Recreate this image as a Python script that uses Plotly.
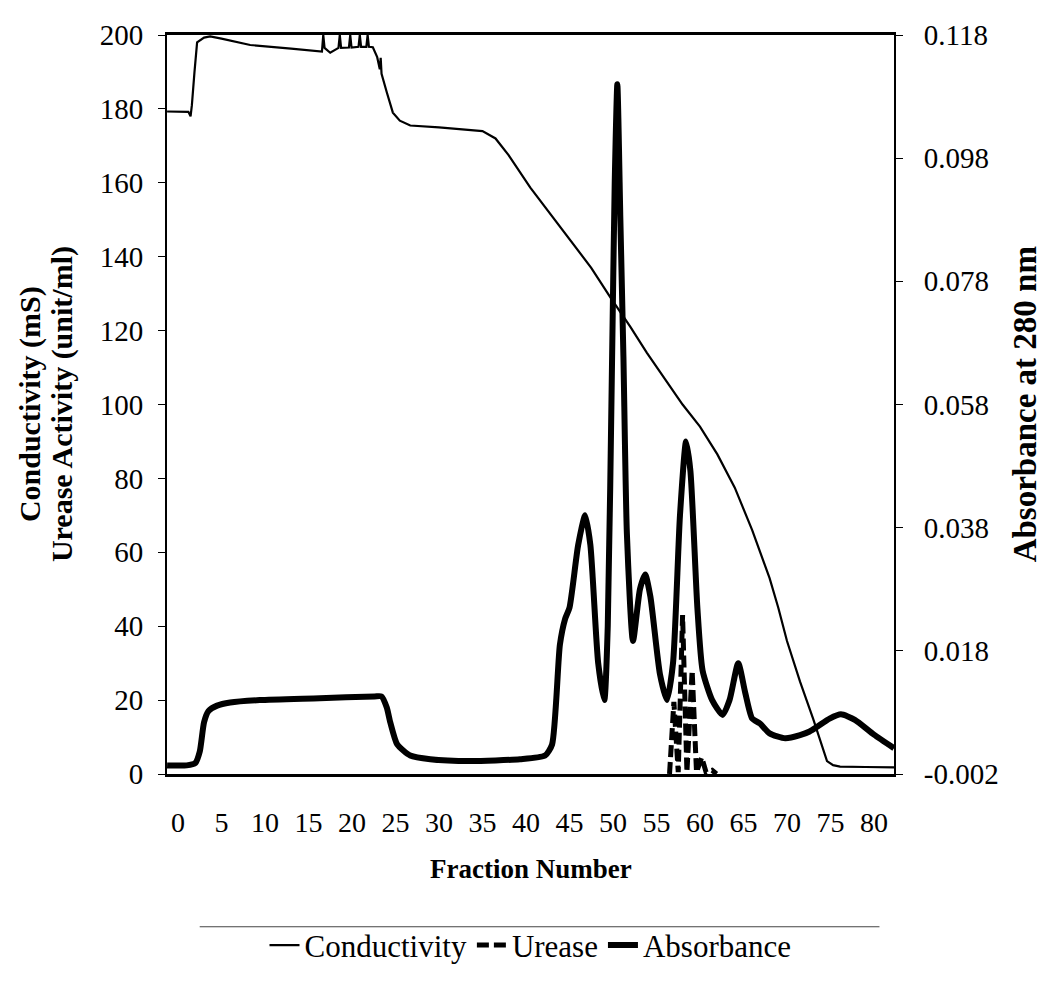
import plotly.graph_objects as go

# ---------------- data ----------------
fraction_ticks = list(range(0, 81, 5))
left_ticks = list(range(0, 201, 20))
right_tick_vals = [-0.002, 0.018, 0.038, 0.058, 0.078, 0.098, 0.118]
right_tick_text = ["-0.002", "0.018", "0.038", "0.058", "0.078", "0.098", "0.118"]

# Conductivity (mS)
cond_x = [-1.25, 1.2, 1.45, 1.6, 1.9, 2.2, 3.0, 3.7, 5.0, 8.3, 13.0, 16.3,
          16.55, 16.7, 16.85, 17.5, 18.45, 18.6, 18.75, 19.65, 19.8, 19.95,
          20.75, 20.9, 21.05, 21.65, 21.8, 21.95, 22.4, 22.9, 23.2, 23.3, 23.4,
          24.0, 24.7, 25.5, 26.7, 30.0, 35.0, 36.5, 38.0, 40.5, 43.0, 45.1,
          47.5, 49.7, 52.0, 53.9, 56.0, 58.0, 60.0, 62.0, 64.0, 66.0, 68.0,
          69.0, 70.0, 71.5, 73.0, 73.8, 74.6, 75.3, 76.1, 79.0, 82.3]
cond_y = [179.3, 179.2, 178.0, 181.0, 190.0, 198.0, 199.3, 199.6, 199.0, 197.3,
          196.3, 195.5, 195.5, 200.0, 196.5, 195.2, 196.5, 200.0, 196.5, 196.6,
          200.0, 196.6, 196.8, 200.0, 196.8, 196.8, 200.0, 196.8, 196.7, 194.0,
          190.7, 193.8, 189.5, 184.5, 179.0, 176.8, 175.5, 175.0, 174.0, 172.0,
          167.5, 158.7, 151.0, 144.5, 137.0, 129.0, 121.0, 114.0, 107.0, 100.0,
          94.0, 86.5, 77.5, 66.0, 53.0, 45.0, 36.0, 25.0, 15.0, 9.0, 3.5,
          2.4, 2.0, 1.9, 1.8]

# Urease activity (unit/ml)
urease_x = [56.5, 57.0, 57.5, 58.0, 58.5, 59.1, 59.6, 60.2, 60.7,
            61.4, 61.9]
urease_y = [0.0, 19.5, 0.5, 43.0, 0.5, 28.0, 0.5, 4.5, 0.5, 1.0, 0.0]

# Absorbance at 280 nm
abs_x = [-1.25, 1.0, 2.0, 2.5, 3.0, 3.5, 4.5, 6.0, 9.4, 16.3, 22.6, 23.4,
         24.0, 24.4, 25.2, 26.7, 29.0, 33.6, 39.3, 42.2, 43.0, 43.9, 44.5,
         45.0, 46.0, 46.8, 47.4, 48.3, 49.0, 49.4, 49.9, 50.2, 50.5, 50.85,
         51.2, 51.6, 52.3, 53.1, 53.7, 54.3, 55.4, 56.2, 56.9, 57.7, 58.4,
         58.9, 59.7, 60.3, 61.4, 62.6, 63.4, 64.4, 65.2, 66.0, 66.9, 68.0,
         69.8, 71.5, 72.6, 73.6, 74.9, 76.2, 77.8, 80.0, 82.3]
abs_y = [-0.0006, -0.0006, -0.0002, 0.0016, 0.0064, 0.0082, 0.0091, 0.0096,
         0.0100, 0.0103, 0.0106, 0.0106, 0.0088, 0.0064, 0.0028, 0.0010,
         0.0004, 0.0001, 0.0004, 0.0010, 0.0028, 0.0190, 0.0232, 0.0250,
         0.0352, 0.0400, 0.0352, 0.0160, 0.0100, 0.0220, 0.0658, 0.0940,
         0.1100, 0.0880, 0.0658, 0.0370, 0.0196, 0.0280, 0.0304, 0.0268,
         0.0142, 0.0100, 0.0160, 0.0400, 0.0520, 0.0472, 0.0250, 0.0148,
         0.0100, 0.0076, 0.0100, 0.0160, 0.0112, 0.0070, 0.0062, 0.0046,
         0.0038, 0.0043, 0.0049, 0.0058, 0.0070, 0.0077, 0.0068, 0.0044,
         0.0022]

# ---------------- figure ----------------
FONT = "Liberation Serif"

fig = go.Figure()
fig.add_trace(go.Scatter(x=cond_x, y=cond_y, name="Conductivity", mode="lines",
                         line=dict(color="black", width=2.2)))
fig.add_trace(go.Scatter(x=urease_x, y=urease_y, name="Urease", mode="lines",
                         line=dict(color="black", width=5, dash="12px,5px")))
fig.add_trace(go.Scatter(x=abs_x, y=abs_y, name="Absorbance", mode="lines",
                         yaxis="y2",
                         line=dict(color="black", width=6, shape="spline",
                                   smoothing=0.6)))

fig.update_layout(
    width=1048, height=984,
    margin=dict(l=167, r=154, t=35, b=199),
    paper_bgcolor="white", plot_bgcolor="white",
    font=dict(family=FONT, size=28, color="black"),
    showlegend=True,
    legend=dict(orientation="h", x=0.5, xanchor="center", y=-0.232,
                yanchor="middle", font=dict(family=FONT, size=31, color="black"),
                itemwidth=30, bgcolor="rgba(0,0,0,0)"),
    xaxis=dict(range=[-1.26, 82.3], tickvals=fraction_ticks,
               showline=True, linecolor="black", linewidth=2.5, mirror=True,
               showgrid=False, zeroline=False, ticks="",
               ticklabelstandoff=22,
               tickfont=dict(family=FONT, size=28, color="black")),
    yaxis=dict(range=[0, 200], tickvals=left_ticks,
               showline=True, linecolor="black", linewidth=2,
               showgrid=False, zeroline=False, ticks="outside", ticklen=7,
               tickcolor="black", ticklabelstandoff=9,
               tickfont=dict(family=FONT, size=29, color="black")),
    yaxis2=dict(range=[-0.002, 0.118], tickvals=right_tick_vals,
                ticktext=right_tick_text, overlaying="y", side="right",
                showline=True, linecolor="black", linewidth=2,
                showgrid=False, zeroline=False, ticks="outside", ticklen=7,
                tickcolor="black", ticklabelstandoff=15,
                tickfont=dict(family=FONT, size=29, color="black")),
    annotations=[
        dict(text="<b>Conductivity (mS)</b>", xref="paper", yref="paper",
             x=-0.189, y=0.5, textangle=-90, showarrow=False,
             xanchor="center", yanchor="middle",
             font=dict(family=FONT, size=30, color="black")),
        dict(text="<b>Urease Activity (unit/ml)</b>", xref="paper", yref="paper",
             x=-0.145, y=0.5, textangle=-90, showarrow=False,
             xanchor="center", yanchor="middle",
             font=dict(family=FONT, size=30, color="black")),
        dict(text="<b>Absorbance at 280 nm</b>", xref="paper", yref="paper",
             x=1.18, y=0.5, textangle=-90, showarrow=False,
             xanchor="center", yanchor="middle",
             font=dict(family=FONT, size=33, color="black")),
        dict(text="<b>Fraction Number</b>", xref="paper", yref="paper",
             x=0.5, y=-0.128, showarrow=False,
             xanchor="center", yanchor="middle",
             font=dict(family=FONT, size=27, color="black")),
    ],
    shapes=[
        dict(type="line", xref="paper", yref="paper", x0=0.045, x1=0.98,
             y0=-0.2067, y1=-0.2067, line=dict(color="#444444", width=1)),
    ],
)

fig.write_html("out.html")
